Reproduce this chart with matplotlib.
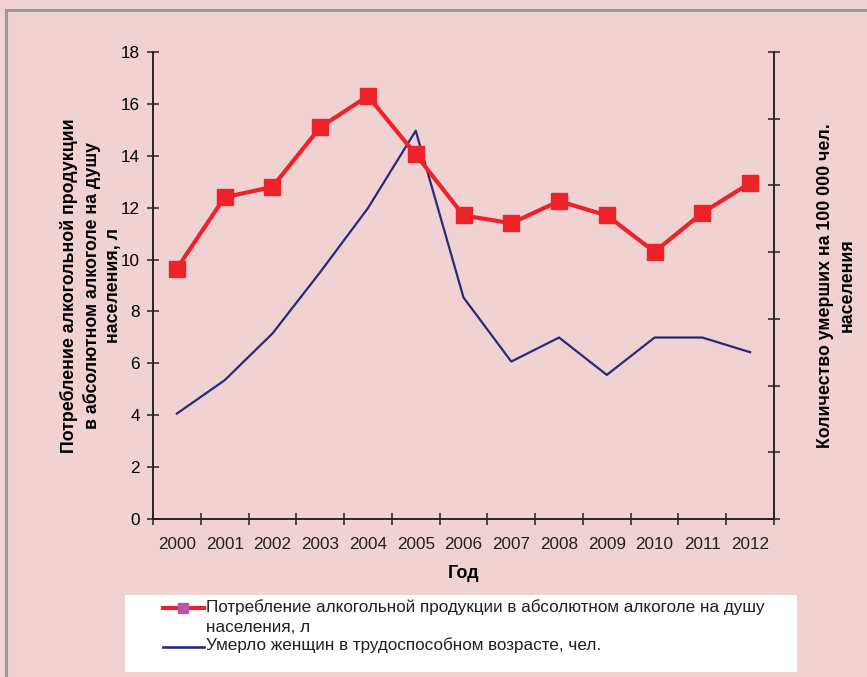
import numpy as np
import matplotlib.pyplot as plt
from matplotlib.patches import Rectangle
from matplotlib.lines import Line2D

years = ['2000', '2001', '2002', '2003', '2004', '2005', '2006',
         '2007', '2008', '2009', '2010', '2011', '2012']
# litres of absolute alcohol per capita (left axis)
alcohol = [9.65, 12.4, 12.8, 15.1, 16.3, 14.05, 11.7, 11.4, 12.25, 11.7, 10.3, 11.8, 12.95]
# women deaths, working age (right axis, unlabeled scale)
deaths = [7.9, 10.4, 13.9, 18.5, 23.3, 29.1, 16.6, 11.8, 13.6, 10.8, 13.6, 13.6, 12.5]

label_alc = ['Потребление алкогольной продукции в абсолютном алкоголе на душу',
             'населения, л']
label_dth = 'Умерло женщин в трудоспособном возрасте, чел.'

plt.rcParams['font.family'] = ['Liberation Sans', 'DejaVu Sans']
bg = '#f0d2d3'
red = '#ee2229'
blue = '#2b2a7a'
ink = '#231f20'
W, H = 867, 677


def fx(px):
    return px / W


def fy(py):
    return 1 - py / H


fig = plt.figure(figsize=(8.67, 6.77), dpi=100, facecolor=bg)
ax = fig.add_axes([fx(153), fy(519), 621/W, 467/H])
ax.set_facecolor(bg)
ax2 = ax.twinx()

x = np.arange(len(years))
ax2.plot(x, deaths, color=blue, lw=1.6, zorder=2)
ax.plot(x, alcohol, color=red, lw=3, marker='s', ms=11, zorder=3)
ax.set_zorder(ax2.get_zorder() + 1)
ax.patch.set_visible(False)
ax2.patch.set_visible(True)
ax2.patch.set_facecolor(bg)

ax.set_xlim(-0.5, len(years) - 0.5)
ax.set_ylim(0, 18)
ax.set_yticks(np.arange(0, 19, 2))
ax2.set_ylim(0, 35)
ax2.set_yticks(np.arange(0, 36, 5))
ax2.set_yticklabels([])

ax.set_xticks(np.arange(-0.5, len(years), 1))
ax.set_xticklabels([])
ax.set_xticks(x, minor=True)
ax.set_xticklabels(years, minor=True)
ax.tick_params(axis='x', which='minor', length=0, pad=13, labelsize=12.3, colors=ink)
ax.tick_params(axis='x', which='major', direction='inout', length=9, width=1.1, color=ink)
ax.tick_params(axis='y', direction='inout', length=9, width=1.1, color=ink, labelsize=12.3, pad=5)
ax2.tick_params(axis='y', direction='inout', length=9, width=1.1, color=ink)

for a in (ax, ax2):
    a.spines['top'].set_visible(False)
    for s in ('left', 'right', 'bottom'):
        a.spines[s].set_color(ink)
        a.spines[s].set_linewidth(1.1)

ax.set_xlabel('Год', fontsize=13, fontweight='bold', labelpad=9)
ax.set_ylabel('Потребление алкогольной продукции\nв абсолютном алкоголе на душу\nнаселения, л',
              fontsize=12.8, fontweight='bold', linespacing=1.35)
ax2.set_ylabel('Количество умерших на 100 000 чел.\nнаселения', fontsize=12.8,
               fontweight='bold', rotation=90, linespacing=1.35)
ax.yaxis.set_label_coords(-0.1, 0.5)
ax2.yaxis.set_label_coords(1.0998, 0.5)
ax.yaxis.label.set_va('center')
ax2.yaxis.label.set_va('center')

# outer frame and legend box
fig.add_artist(Rectangle((fx(6), -0.1), 1.2, 1.1 - 9.5/H, transform=fig.transFigure,
                         facecolor='none', edgecolor='#9b9b9b', lw=2.2))
fig.add_artist(Rectangle((fx(125), fy(672)), 672/W, 77/H, transform=fig.transFigure,
                         facecolor='white', edgecolor='none'))

# legend drawn by hand: handle sits on the first line of each entry
fig.add_artist(Line2D([fx(163), fx(204)], [fy(607.5)] * 2, transform=fig.transFigure,
                      color=red, lw=3))
fig.add_artist(Line2D([fx(183)], [fy(607.5)], transform=fig.transFigure, marker='s',
                      ms=7, color='#b956a8', lw=0))
fig.add_artist(Line2D([fx(163), fx(204)], [fy(646.5)] * 2, transform=fig.transFigure,
                      color=blue, lw=1.9))
fig.text(fx(206), fy(607), label_alc[0], fontsize=12.3, va='center', color=ink)
fig.text(fx(206), fy(627.5), label_alc[1], fontsize=12.3, va='center', color=ink)
fig.text(fx(206), fy(645.5), label_dth, fontsize=12.3, va='center', color=ink)

fig.savefig('out.png', dpi=100, facecolor=bg)
